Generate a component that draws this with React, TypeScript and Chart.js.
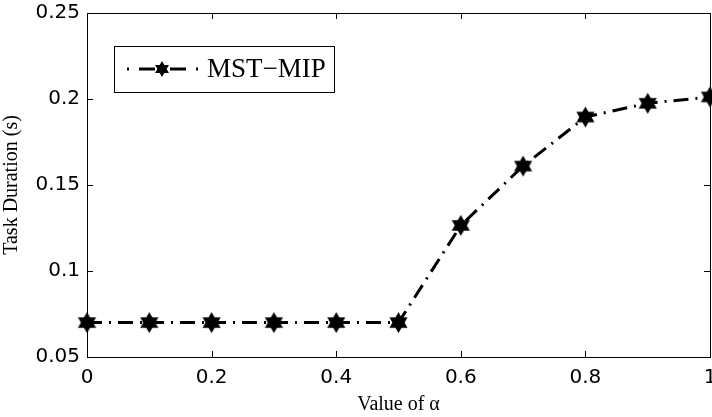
import React, { useEffect, useRef } from "react";
import { Chart, registerables } from "chart.js";

Chart.register(...registerables);

const alphaValues = [0, 0.1, 0.2, 0.3, 0.4, 0.5, 0.6, 0.7, 0.8, 0.9, 1.0];
const taskDuration = [0.07, 0.07, 0.07, 0.07, 0.07, 0.07, 0.1265, 0.161, 0.1895, 0.1975, 0.2012];
const seriesName = "MST\u2212MIP";
const xTitle = "Value of \u03b1";
const yTitle = "Task Duration (s)";

function makeHexagram(r: number): HTMLCanvasElement {
  const size = Math.ceil(r * 2 + 4);
  const c = document.createElement("canvas");
  c.width = size;
  c.height = size;
  const ctx = c.getContext("2d")!;
  const cx = size / 2;
  const cy = size / 2;
  ctx.fillStyle = "#000";
  for (let t = 0; t < 2; t++) {
    ctx.beginPath();
    for (let i = 0; i < 3; i++) {
      const a = -Math.PI / 2 + t * Math.PI + (i * 2 * Math.PI) / 3;
      const x = cx + r * Math.cos(a);
      const y = cy + r * Math.sin(a);
      if (i === 0) ctx.moveTo(x, y);
      else ctx.lineTo(x, y);
    }
    ctx.closePath();
    ctx.fill();
  }
  return c;
}

const DASH = [15, 7, 2, 7];

let legendStar: HTMLCanvasElement;

const framePlugin = {
  id: "matlabFrame",
  afterDraw(chart: any) {
    const { ctx, chartArea } = chart;
    const { left, right, top, bottom } = chartArea;
    const xs = chart.scales.x;
    const ys = chart.scales.y;
    ctx.save();
    ctx.strokeStyle = "#000";
    ctx.lineWidth = 1;
    ctx.setLineDash([]);
    ctx.strokeRect(left + 0.5, top + 0.5, right - left, bottom - top);
    const tl = 6;
    ctx.beginPath();
    xs.ticks.forEach((t: any) => {
      const px = Math.round(xs.getPixelForValue(t.value)) + 0.5;
      ctx.moveTo(px, bottom);
      ctx.lineTo(px, bottom - tl);
      ctx.moveTo(px, top);
      ctx.lineTo(px, top + tl);
    });
    ys.ticks.forEach((t: any) => {
      const py = Math.round(ys.getPixelForValue(t.value)) + 0.5;
      ctx.moveTo(left, py);
      ctx.lineTo(left + tl, py);
      ctx.moveTo(right, py);
      ctx.lineTo(right - tl, py);
    });
    ctx.stroke();

    // legend
    const bx = 114, by = 46, bw = 220, bh = 46;
    ctx.fillStyle = "#fff";
    ctx.fillRect(bx, by, bw, bh);
    ctx.strokeRect(bx + 0.5, by + 0.5, bw, bh);
    const my = by + bh / 2;
    ctx.lineWidth = 3;
    ctx.lineCap = "butt";
    ctx.beginPath();
    ctx.moveTo(127, my);
    ctx.lineTo(129, my);
    ctx.moveTo(139, my);
    ctx.lineTo(155, my);
    ctx.moveTo(170, my);
    ctx.lineTo(186, my);
    ctx.moveTo(196, my);
    ctx.lineTo(198, my);
    ctx.stroke();
    const star = legendStar;
    ctx.drawImage(star, 162 - star.width / 2, my - star.height / 2);
    ctx.fillStyle = "#000";
    ctx.font = "27px 'Liberation Serif', 'Times New Roman', serif";
    ctx.textBaseline = "middle";
    ctx.textAlign = "left";
    ctx.fillText(seriesName, 207, my + 1);
    ctx.restore();
  },
};

const fmt = (v: any) => String(Number(Number(v).toFixed(2)));

export default function App() {
  const ref = useRef<HTMLCanvasElement>(null);
  useEffect(() => {
    document.body.style.margin = "0";
    legendStar = makeHexagram(8);
    const marker = makeHexagram(10.5);
    const chart = new Chart(ref.current!, {
      type: "line",
      data: {
        datasets: [
          {
            label: seriesName,
            data: alphaValues.map((x, i) => ({ x, y: taskDuration[i] })),
            borderColor: "#000",
            backgroundColor: "#000",
            borderWidth: 3,
            borderDash: DASH,
            pointStyle: marker as any,
            pointRadius: 10,
            clip: false as any,
            tension: 0,
          },
        ],
      },
      options: {
        responsive: false,
        animation: false,
        layout: { autoPadding: false, padding: { top: 13, right: 2, left: 0, bottom: 0 } },
        plugins: { legend: { display: false }, tooltip: { enabled: false } },
        scales: {
          x: {
            type: "linear",
            min: 0,
            max: 1,
            ticks: {
              stepSize: 0.2,
              color: "#000",
              padding: 9,
              maxRotation: 0,
              callback: fmt,
              font: { family: "'DejaVu Sans'", size: 20 },
            },
            grid: { display: false, drawTicks: false },
            border: { display: false },
            title: {
              display: true,
              text: xTitle,
              color: "#000",
              padding: { top: 0, bottom: 0 },
              font: { family: "'Liberation Serif'", size: 20 },
            },
            afterFit(scale: any) {
              scale.height = 60;
              scale.paddingLeft = 0;
              scale.paddingRight = 0;
            },
          },
          y: {
            type: "linear",
            min: 0.05,
            max: 0.25,
            ticks: {
              stepSize: 0.05,
              color: "#000",
              padding: 7,
              callback: fmt,
              font: { family: "'DejaVu Sans'", size: 20 },
            },
            grid: { display: false, drawTicks: false },
            border: { display: false },
            title: {
              display: true,
              text: yTitle,
              color: "#000",
              padding: { top: 0, bottom: 0 },
              font: { family: "'Liberation Serif'", size: 20 },
            },
            afterFit(scale: any) {
              scale.width = 87;
              scale.paddingTop = 0;
              scale.paddingBottom = 0;
            },
          },
        },
      },
      plugins: [framePlugin],
    });
    return () => chart.destroy();
  }, []);
  return (
    <div style={{ position: "absolute", left: 0, top: 0, width: 712, height: 417, background: "#fff" }}>
      <canvas ref={ref} width={712} height={417} />
    </div>
  );
}
